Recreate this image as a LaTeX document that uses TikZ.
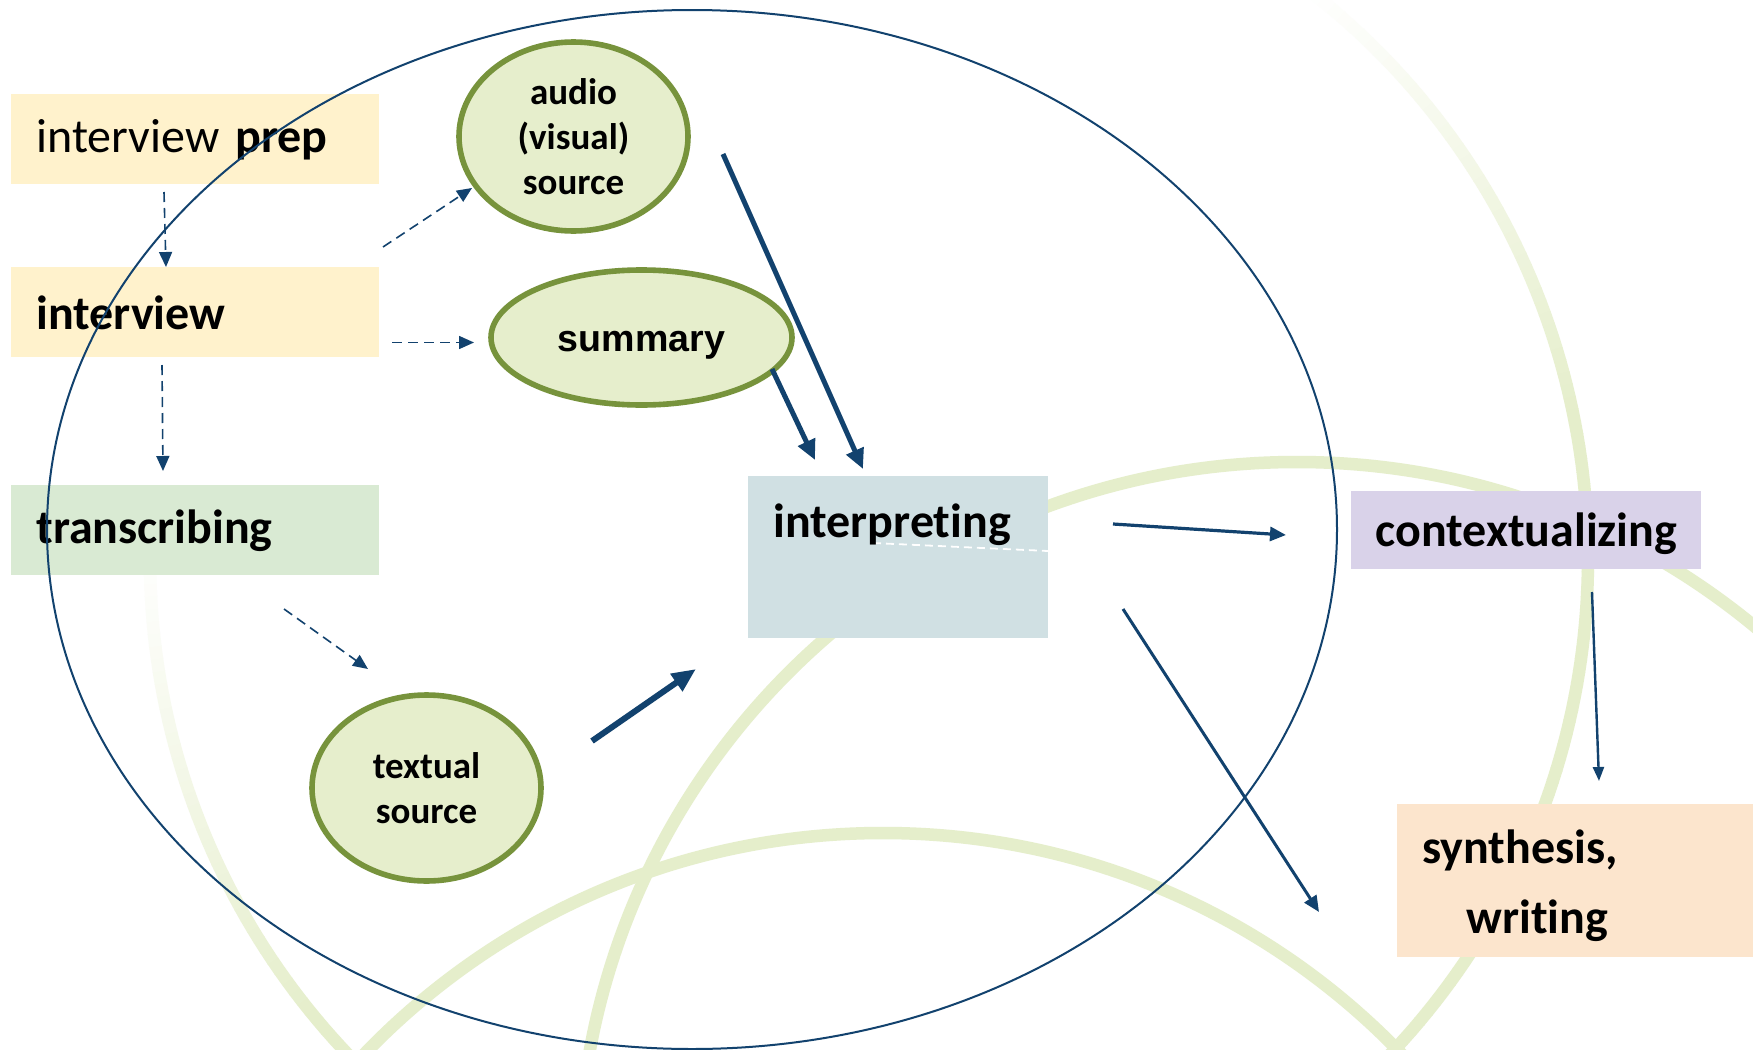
\documentclass[tikz,border=0pt]{standalone}
\usepackage{fontspec}
\setmainfont{Carlito}[Ligatures=NoCommon]
\newfontfamily\arialfont{Liberation Sans}
\usetikzlibrary{arrows.meta,shapes.geometric}
\definecolor{prepcol}{RGB}{255,242,204}
\definecolor{transcol}{RGB}{217,234,211}
\definecolor{interpcol}{RGB}{208,224,227}
\definecolor{contextcol}{RGB}{217,210,233}
\definecolor{synthcol}{RGB}{252,229,205}
\definecolor{srcfill}{RGB}{230,238,204}
\definecolor{srcborder}{RGB}{119,147,60}
\definecolor{bggreen}{RGB}{229,238,203}
\definecolor{navy}{RGB}{18,66,110}
\begin{document}
\begin{tikzpicture}[x=0.5pt,y=-0.5pt,
  bigfont/.style={font=\fontsize{24}{29}\selectfont\bfseries},
  stagebox/.style={rectangle, inner sep=0pt, anchor=north west, bigfont},
  leftbox/.style={stagebox, align=left, inner xsep=12.5pt, text width=159pt, minimum height=45pt},
  srcnode/.style={ellipse, draw=srcborder, line width=2.8pt, fill=srcfill, inner sep=0pt, align=center, font=\fontsize{18.5}{22.4}\selectfont\bfseries},
  bgarc/.style={draw=bggreen, line width=6.25pt},
  dasharrow/.style={draw=navy, line width=0.8pt, dash pattern=on 5pt off 3pt, -{Triangle[length=7.5pt,width=6.5pt]}},
  thickarrow/.style={draw=navy, line width=2.5pt, -{Triangle[length=10pt,width=9pt]}},
  midarrow/.style={draw=navy, line width=1.6pt, -{Triangle[length=8pt,width=7pt]}},
  thinarrow/.style={draw=navy, line width=1.2pt, -{Triangle[length=7pt,width=5.5pt]}}
]
\useasboundingbox (0,0) rectangle (1753,1050);
\fill[white] (0,0) rectangle (1753,1050);

% background circles
\begin{scope}
\clip (0,0) rectangle (1753,1050);
\draw[bgarc] (1297,1181) circle[radius=359.5pt];
\draw[bgarc] (883,1552) circle[radius=359.5pt];
\foreach \a in {0,...,359}{
  \pgfmathsetmacro\xa{869+719*cos(\a)}
  \pgfmathsetmacro\ya{559+719*sin(\a)}
  \pgfmathsetmacro\xb{869+719*cos(\a+1.05)}
  \pgfmathsetmacro\yb{559+719*sin(\a+1.05)}
  \pgfmathsetmacro\pp{0.43*(\xa+\xb)/2+0.903*(\ya+\yb)/2}
  \pgfmathtruncatemacro\k{max(0,min(100,(\pp-550)/5))}
  \ifnum\k>0
    \draw[line width=6.25pt, draw=bggreen!\k!white] (\xa,\ya) -- (\xb,\yb);
  \fi
}
\end{scope}

% stage boxes
\node[leftbox, fill=prepcol] (prep) at (11,94) {{\mdseries interview} prep};
\node[leftbox, fill=prepcol] (interview) at (11,267) {interview};
\node[leftbox, fill=transcol] (transcribing) at (11,485) {transcribing};
\node[stagebox, fill=interpcol, minimum width=150pt, minimum height=81pt] (interp) at (748,476) {};
\draw[white, line width=0.9pt, dash pattern=on 4pt off 2.5pt] (873,543) coordinate (wd1) -- (1048,551) coordinate (wd2);
\node[anchor=base west, inner sep=0pt, bigfont] (interplabel) at (773,537) {interpreting};
\node[stagebox, fill=contextcol, minimum width=175pt, minimum height=39pt, text height=19pt, text depth=3pt] (context) at (1351,491) {contextualizing};
\node[stagebox, fill=synthcol, minimum width=178pt, minimum height=76.5pt] (synth) at (1397,804) {};
\node[anchor=base west, inner sep=0pt, bigfont] (synthA) at (1422,863) {synthesis,};
\node[anchor=base west, inner sep=0pt, bigfont] (synthB) at (1466,933) {writing};

% sources
\node[srcnode, minimum width=114.5pt, minimum height=94.5pt] (audio) at (573.5,136.5) {audio\\(visual)\\source};
\node[srcnode, minimum width=150.5pt, minimum height=67.5pt, text height=14pt, text depth=0pt, font=\arialfont\fontsize{18.8}{22.4}\selectfont\bfseries] (summary) at (641.5,337.5) {summary};
\node[srcnode, minimum width=114.5pt, minimum height=93pt] (textual) at (426.5,788) {textual\\source};

% frame ellipse
\node[ellipse, draw=navy, line width=1pt, minimum width=645pt, minimum height=519.5pt, inner sep=0pt] (frame) at (692,529.5) {};

% connector end points
\coordinate (d1s) at (164,192);  \coordinate (d1e) at (166,267);
\coordinate (d2s) at (162,365);  \coordinate (d2e) at (163,471);
\coordinate (d3s) at (383,247);  \coordinate (d3e) at (472,188);
\coordinate (d4s) at (392,342.5); \coordinate (d4e) at (474,342.5);
\coordinate (d5s) at (284,609);  \coordinate (d5e) at (368,669);
\coordinate (s1s) at (723,154);  \coordinate (s1e) at (863,469);
\coordinate (s2s) at (772,369);  \coordinate (s2e) at (815,460);
\coordinate (s3s) at (592,741);  \coordinate (s3e) at (696,669);
\coordinate (m1s) at (1113,524); \coordinate (m1e) at (1286,535);
\coordinate (m2s) at (1123,609); \coordinate (m2e) at (1319,912);
\coordinate (m3s) at (1592,592); \coordinate (m3e) at (1599,781);

\draw[dasharrow] (d1s) -- (d1e);
\draw[dasharrow] (d2s) -- (d2e);
\draw[dasharrow] (d3s) -- (d3e);
\draw[dasharrow] (d4s) -- (d4e);
\draw[dasharrow] (d5s) -- (d5e);
\draw[thickarrow] (s1s) -- (s1e);
\draw[thickarrow] (s2s) -- (s2e);
\draw[thickarrow, line width=3pt, -{Triangle[length=12pt,width=10pt]}] (s3s) -- (s3e);
\draw[midarrow] (m1s) -- (m1e);
\draw[midarrow, line width=1.5pt] (m2s) -- (m2e);
\draw[thinarrow] (m3s) -- (m3e);
\end{tikzpicture}
\end{document}
